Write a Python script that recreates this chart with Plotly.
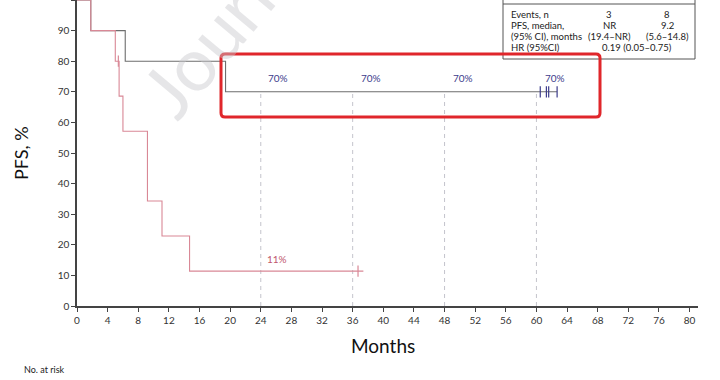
import plotly.graph_objects as go

# ---- data ----
black_times = [0, 1.8, 6.3, 19.4, 62.7]
black_surv = [100, 90, 80, 70, 70]
black_censor_t = [60.5, 61.3, 61.6, 62.7]
black_censor_s = [70, 70, 70, 70]

red_times = [0, 1.8, 5.0, 5.5, 6.0, 9.2, 11.1, 14.7, 37.4]
red_surv = [100, 90, 80, 68.6, 57.1, 34.3, 22.9, 11.4, 11.4]
red_censor_t = [5.4, 36.7]
red_censor_s = [80, 11.4]

landmarks = [24, 36, 48, 60]
landmark_top = 70
black_labels_x = [26.3, 38.4, 50.4, 62.4]
black_labels_y = [74.5, 74.5, 74.5, 74.5]
black_labels = ["70%", "70%", "70%", "70%"]
red_label_x = [26.1]
red_label_y = [15.4]
red_labels = ["11%"]

x_ticks = list(range(0, 81, 4))
y_ticks = list(range(0, 101, 10))

table_rows = ["Events, n", "PFS, median,", "(95% CI), months", "HR (95%CI)"]
table_col1 = ["3", "NR", "(19.4–NR)", ""]
table_col2 = ["8", "9.2", "(5.6–14.8)", ""]
hr_text = "0.19 (0.05–0.75)"

FONT = "Lato"
GREY = "#6e6e6e"
PINK = "#d98896"
NAVY = "#3c3c8c"

# ---- geometry ----
W, H = 720, 380
L, R, T, B = 77, 22, 0, 74
PW, PH = W - L - R, H - T - B


def px(xp):
    return (xp - L) / PW


def py(yp):
    return (H - B - yp) / PH


fig = go.Figure()

fig.add_trace(go.Scatter(x=black_times, y=black_surv, mode="lines", line_shape="hv",
                         line=dict(color=GREY, width=1.1), showlegend=False, hoverinfo="skip",
                         cliponaxis=False))
fig.add_trace(go.Scatter(x=red_times, y=red_surv, mode="lines", line_shape="hv",
                         line=dict(color=PINK, width=1.1), showlegend=False, hoverinfo="skip",
                         cliponaxis=False))
fig.add_trace(go.Scatter(x=black_censor_t, y=black_censor_s, mode="markers",
                         marker=dict(symbol="line-ns", size=8, line=dict(color=NAVY, width=1.2)),
                         showlegend=False, hoverinfo="skip"))
fig.add_trace(go.Scatter(x=red_censor_t, y=red_censor_s, mode="markers",
                         marker=dict(symbol="line-ns", size=8, line=dict(color=PINK, width=1.2)),
                         showlegend=False, hoverinfo="skip"))

# landmark dashed lines
for lm in landmarks:
    fig.add_shape(type="line", xref="x", yref="y", x0=lm, x1=lm, y0=0, y1=landmark_top,
                  line=dict(color="#c4c4cc", width=1, dash="4px,4px"), layer="below")

for xv, yv, t in zip(black_labels_x, black_labels_y, black_labels):
    fig.add_annotation(x=xv, y=yv, text=t, showarrow=False, xref="x", yref="y",
                       font=dict(family=FONT, size=10, color=NAVY))
for xv, yv, t in zip(red_label_x, red_label_y, red_labels):
    fig.add_annotation(x=xv, y=yv, text=t, showarrow=False, xref="x", yref="y",
                       font=dict(family=FONT, size=10, color="#c0566e"))

# watermark
fig.add_annotation(x=px(232), y=py(14), xref="paper", yref="paper", text="Journal",
                   showarrow=False, textangle=-50, xanchor="center", yanchor="middle",
                   font=dict(family=FONT, size=74, color="rgba(200,200,205,0.45)"))

# table box
fig.add_shape(type="rect", xref="paper", yref="paper", x0=px(503), x1=px(695), y0=py(59), y1=py(-5),
              line=dict(color="#555", width=1), fillcolor="white")
fig.add_shape(type="line", xref="paper", yref="paper", x0=px(503), x1=px(695), y0=py(4), y1=py(4),
              line=dict(color="#555", width=1))
row_y = [14.5, 25, 36, 47.5]
for i, ry in enumerate(row_y):
    fig.add_annotation(x=px(509), y=py(ry), xref="paper", yref="paper", text=table_rows[i],
                       showarrow=False, xanchor="left", yanchor="middle",
                       font=dict(family=FONT, size=9.5, color="#222"))
    if table_col1[i]:
        fig.add_annotation(x=px(609), y=py(ry), xref="paper", yref="paper", text=table_col1[i],
                           showarrow=False, xanchor="center", yanchor="middle",
                           font=dict(family=FONT, size=9.5, color="#222"))
    if table_col2[i]:
        fig.add_annotation(x=px(667), y=py(ry), xref="paper", yref="paper", text=table_col2[i],
                           showarrow=False, xanchor="center", yanchor="middle",
                           font=dict(family=FONT, size=9.5, color="#222"))
fig.add_annotation(x=px(637), y=py(row_y[3]), xref="paper", yref="paper", text=hr_text,
                   showarrow=False, xanchor="center", yanchor="middle",
                   font=dict(family=FONT, size=9.5, color="#222"))

# red highlight rounded rectangle
x0, x1, y0, y1, r = 221, 600, 54, 117, 4
rx = r / PW
ry_ = r / PH
X0, X1, Y0, Y1 = px(x0), px(x1), py(y1), py(y0)
path = (f"M {X0+rx},{Y1} L {X1-rx},{Y1} Q {X1},{Y1} {X1},{Y1-ry_} "
        f"L {X1},{Y0+ry_} Q {X1},{Y0} {X1-rx},{Y0} L {X0+rx},{Y0} Q {X0},{Y0} {X0},{Y0+ry_} "
        f"L {X0},{Y1-ry_} Q {X0},{Y1} {X0+rx},{Y1} Z")
fig.add_shape(type="path", xref="paper", yref="paper", path=path,
              line=dict(color="#e0262b", width=3))

# axis titles and No. at risk
fig.add_annotation(x=px(383), y=py(345), xref="paper", yref="paper", text="Months",
                   showarrow=False, xanchor="center", yanchor="middle",
                   font=dict(family=FONT, size=19, color="#111"))
fig.add_annotation(x=px(21), y=py(153), xref="paper", yref="paper", text="PFS, %",
                   showarrow=False, xanchor="center", yanchor="middle", textangle=-90,
                   font=dict(family=FONT, size=18, color="#111"))
fig.add_annotation(x=px(22), y=py(369), xref="paper", yref="paper", text="No. at risk",
                   showarrow=False, xanchor="left", yanchor="middle",
                   font=dict(family=FONT, size=9, color="#222"))

fig.update_layout(
    width=W, height=H,
    margin=dict(l=L, r=R, t=T, b=B),
    paper_bgcolor="white", plot_bgcolor="white",
    font=dict(family=FONT, color="#222"),
    xaxis=dict(range=[0, 81.1], tickvals=x_ticks, ticks="outside", ticklen=4, tickcolor="#444",
               showline=True, linecolor="#444", linewidth=1.5, showgrid=False, zeroline=False,
               tickfont=dict(family=FONT, size=10, color="#333")),
    yaxis=dict(range=[0, 100], tickvals=y_ticks, ticks="outside", ticklen=4, tickcolor="#444",
               showline=True, linecolor="#444", linewidth=1.5, showgrid=False, zeroline=False,
               tickfont=dict(family=FONT, size=10, color="#333")),
)

fig.write_html("out.html", config={"displayModeBar": False},
               post_script="document.body.style.margin='0';document.body.style.overflow='hidden';")
